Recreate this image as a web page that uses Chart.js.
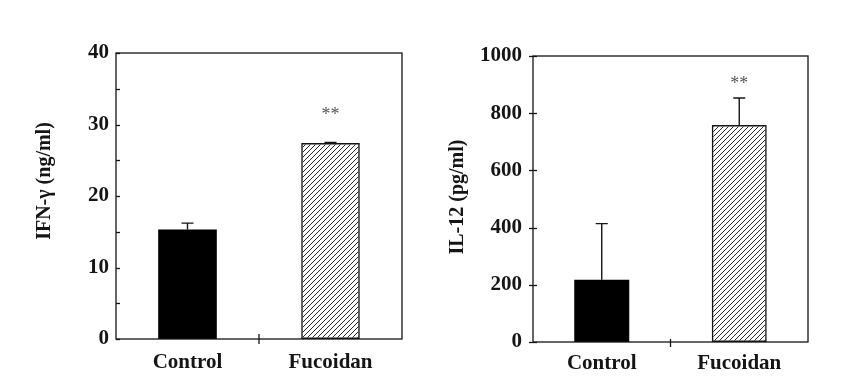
<!DOCTYPE html>
<html>
<head>
<meta charset="utf-8">
<script src="https://cdn.jsdelivr.net/npm/chart.js@4.4.0/dist/chart.umd.min.js"></script>
<style>
  body { margin: 0; background: #fff; width: 860px; height: 379px; overflow: hidden; display: flex; }
  canvas { display: block; }
</style>
</head>
<body>
<canvas id="ifn" width="430" height="379"></canvas>
<canvas id="il12" width="430" height="379"></canvas>
<script>
const categories = ['Control', 'Fucoidan'];
const ifnValues = [15.3, 27.4];
const ifnErrors = [0.9, 0.1];
const il12Values = [218, 759];
const il12Errors = [196, 94];
const marks = ['', '**'];

const SERIF = '"Liberation Serif", "DejaVu Serif", serif';
const INK = '#151515';

const hatch = () => {
    const c = document.createElement('canvas');
    c.width = c.height = 5;
    const g = c.getContext('2d');
    g.strokeStyle = '#111';
    g.lineWidth = 0.9;
    g.beginPath();
    g.moveTo(0, 5); g.lineTo(5, 0);
    g.moveTo(-1, 1); g.lineTo(1, -1);
    g.moveTo(4, 6); g.lineTo(6, 4);
    g.stroke();
    return g.createPattern(c, 'repeat');
};

// box, tick marks, error bars, stars and rotated y title
const decor = {
    id: 'decor',
    afterDatasetsDraw(chart, args, o) {
        const { ctx, chartArea: a, scales: { x, y } } = chart;
        ctx.save();
        ctx.strokeStyle = INK;
        ctx.lineWidth = 1.3;
        ctx.strokeRect(a.left, a.top, a.right - a.left, a.bottom - a.top);

        // y ticks
        y.ticks.forEach(t => {
            const py = Math.round(y.getPixelForValue(t.value)) + 0.5;
            ctx.beginPath();
            ctx.moveTo(a.left + o.tickIn, py);
            ctx.lineTo(a.left - o.tickOut, py);
            ctx.stroke();
        });
        // divider tick between categories
        const mid = (x.getPixelForValue(0) + x.getPixelForValue(1)) / 2;
        ctx.beginPath();
        ctx.moveTo(mid, a.bottom - o.divUp);
        ctx.lineTo(mid, a.bottom + 5);
        ctx.stroke();

        // error bars + significance
        const meta = chart.getDatasetMeta(0);
        const vals = chart.data.datasets[0].data;
        meta.data.forEach((bar, i) => {
            const top = y.getPixelForValue(vals[i] + o.errors[i]);
            ctx.lineWidth = 1.4;
            ctx.beginPath();
            ctx.moveTo(bar.x, bar.y);
            ctx.lineTo(bar.x, top);
            ctx.moveTo(bar.x - 6, top);
            ctx.lineTo(bar.x + 6, top);
            ctx.stroke();
            if (o.marks[i]) {
                ctx.fillStyle = '#555';
                ctx.font = '18px ' + SERIF;
                ctx.textAlign = 'center';
                ctx.textBaseline = 'middle';
                ctx.fillText(o.marks[i], bar.x, top - o.starGap);
            }
        });

        ctx.translate(o.titleX, o.titleY);
        ctx.rotate(-Math.PI / 2);
        ctx.fillStyle = INK;
        ctx.font = 'bold 20px ' + SERIF;
        ctx.textAlign = 'center';
        ctx.textBaseline = 'middle';
        ctx.fillText(o.title, 0, 0);
        ctx.restore();
    }
};

const makeChart = (id, values, cfg) => new Chart(document.getElementById(id), {
    type: 'bar',
    data: {
        labels: categories,
        datasets: [{
            data: values,
            backgroundColor: ['#000', hatch()],
            borderColor: INK,
            borderWidth: [0, 1.5],
            borderSkipped: false,
            barPercentage: cfg.barPct,
            categoryPercentage: 1
        }]
    },
    options: {
        responsive: false,
        animation: false,
        devicePixelRatio: 1,
        layout: { padding: cfg.padding },
        plugins: {
            legend: { display: false },
            tooltip: { enabled: false },
            decor: cfg.decor
        },
        scales: {
            x: {
                grid: { display: false, drawTicks: false },
                border: { display: false },
                ticks: { color: INK, padding: cfg.xPad, font: { family: SERIF, size: 21, weight: 'bold' } },
                afterFit: s => { s.height = cfg.xHeight; }
            },
            y: {
                min: 0,
                max: cfg.max,
                grid: { display: false, drawTicks: false },
                border: { display: false },
                ticks: {
                    stepSize: cfg.step,
                    color: INK,
                    padding: cfg.yPad,
                    font: { family: SERIF, size: 21, weight: 'bold' },
                    callback: v => v % cfg.labelStep === 0 ? v : ''
                },
                afterFit: s => { s.width = cfg.yWidth; }
            }
        }
    },
    plugins: [decor]
});

makeChart('ifn', ifnValues, {
    max: 40, step: 5, labelStep: 10, barPct: 0.41,
    padding: { left: 0, right: 28, top: 53, bottom: 0 },
    yWidth: 116, xHeight: 40, xPad: 11, yPad: 7,
    decor: { errors: ifnErrors, marks: marks, starGap: 27, tickIn: 4, tickOut: 0, divUp: 5,
             title: 'IFN-γ (ng/ml)', titleX: 45, titleY: 181 }
});

makeChart('il12', il12Values, {
    max: 1000, step: 200, labelStep: 200, barPct: 0.40,
    padding: { left: 0, right: 52, top: 56, bottom: 0 },
    yWidth: 103, xHeight: 37, xPad: 9, yPad: 11,
    decor: { errors: il12Errors, marks: marks, starGap: 14, tickIn: 4, tickOut: 4, divUp: 3,
             title: 'IL-12 (pg/ml)', titleX: 28, titleY: 197 }
});
</script>
</body>
</html>
